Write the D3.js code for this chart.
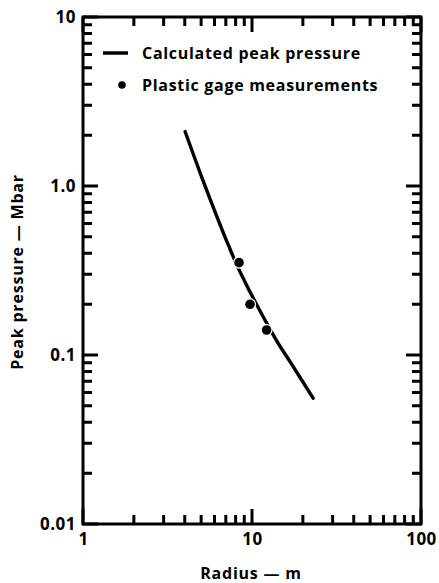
<!DOCTYPE html>
<html>
<head>
<meta charset="utf-8">
<script src="https://cdn.jsdelivr.net/npm/d3@7"></script>
<style>
  html, body { margin: 0; padding: 0; background: #fff; }
  svg { display: block; }
  text { font-family: "Open Sans", "DejaVu Sans", sans-serif; font-weight: 700; fill: #000; }
</style>
</head>
<body>
<svg id="chart" width="439" height="583"></svg>
<script>
// Calculated peak pressure vs. radius
const curveRadius   = [4.02, 5.04, 7.24, 8.49, 13.7, 17.2, 23.0];
const curvePressure = [2.10, 1.13, 0.448, 0.311, 0.126, 0.088, 0.0555];

// Plastic gage measurements
const gageRadius   = [8.38, 9.73, 12.2];
const gagePressure = [0.352, 0.1995, 0.1406];

// Axis ticks
const xMajorTicks = [1, 10, 100];
const xMajorLabels = ["1", "10", "100"];
const xMinorTicks = [2, 3, 4, 5, 6, 7, 8, 9, 20, 30, 40, 50, 60, 70, 80, 90];
const yMajorTicks = [0.01, 0.1, 1, 10];
const yMajorLabels = ["0.01", "0.1", "1.0", "10"];
const yMinorTicks = [0.02, 0.03, 0.04, 0.05, 0.06, 0.07, 0.08, 0.09,
                     0.2, 0.3, 0.4, 0.5, 0.6, 0.7, 0.8, 0.9,
                     2, 3, 4, 5, 6, 7, 8, 9];

const legendLabels = ["Calculated peak pressure", "Plastic gage measurements"];
const xTitle = "Radius \u2014 m";
const yTitle = "Peak pressure \u2014 Mbar";

const svg = d3.select("#chart");
const plotLeft = 83, plotRight = 421, plotTop = 17, plotBottom = 524;

const x = d3.scaleLog().domain([1, 100]).range([plotLeft, plotRight]);
const y = d3.scaleLog().domain([0.01, 10]).range([plotBottom, plotTop]);

svg.append("rect").attr("width", 439).attr("height", 583).attr("fill", "#fff");

const majorLen = 15, minorLen = 9;

// Frame
svg.append("rect")
  .attr("x", plotLeft).attr("y", plotTop)
  .attr("width", plotRight - plotLeft).attr("height", plotBottom - plotTop)
  .attr("fill", "none").attr("stroke", "#000").attr("stroke-width", 3);

// Tick labels from d3 axes
function styleLabels(g) {
  g.select(".domain").remove();
  g.selectAll(".tick line").remove();
  g.selectAll(".tick text")
    .style("font-family", "'Open Sans', sans-serif")
    .style("font-weight", 700)
    .style("font-size", "17px")
    .style("letter-spacing", "0.5px")
    .attr("fill", "#000");
}
svg.append("g").attr("transform", `translate(0,${plotBottom})`)
  .call(d3.axisBottom(x).tickValues(xMajorTicks).tickSize(0).tickPadding(9)
    .tickFormat((d, i) => xMajorLabels[i]))
  .call(styleLabels);
svg.append("g").attr("transform", `translate(${plotLeft},0)`)
  .call(d3.axisLeft(y).tickValues(yMajorTicks).tickSize(0).tickPadding(7)
    .tickFormat((d, i) => yMajorLabels[i]))
  .call(styleLabels);

// Inward tick marks on all four sides, one path per side
const xTicks = xMajorTicks.map(v => ({ v, len: majorLen }))
  .concat(xMinorTicks.map(v => ({ v, len: minorLen })));
const yTicks = yMajorTicks.map(v => ({ v, len: majorLen }))
  .concat(yMinorTicks.map(v => ({ v, len: minorLen })));

const tickPaths = [
  xTicks.map(d => `M${x(d.v)},${plotBottom}V${plotBottom - d.len}`).join(""),
  xTicks.map(d => `M${x(d.v)},${plotTop}V${plotTop + d.len}`).join(""),
  yTicks.map(d => `M${plotLeft},${y(d.v)}H${plotLeft + d.len}`).join(""),
  yTicks.map(d => `M${plotRight},${y(d.v)}H${plotRight - d.len}`).join("")
];
svg.append("g").selectAll("path").data(tickPaths).join("path")
  .attr("d", d => d)
  .attr("fill", "none")
  .attr("stroke", "#000")
  .attr("stroke-width", 3);

// Calculated curve
const curveData = curveRadius.map((r, i) => ({ r, p: curvePressure[i] }));
const pathGen = d3.line().x(d => x(d.r)).y(d => y(d.p)).curve(d3.curveCatmullRom.alpha(0.5));
svg.append("path").datum(curveData)
  .attr("d", pathGen)
  .attr("fill", "none").attr("stroke", "#000").attr("stroke-width", 3.4)
  .attr("stroke-linecap", "round");

// Gage measurements (white halo breaks the curve around each dot)
svg.append("g").selectAll("circle")
  .data(gageRadius.map((r, i) => ({ r, p: gagePressure[i] })))
  .join("circle")
  .attr("cx", d => x(d.r)).attr("cy", d => y(d.p))
  .attr("r", 4.8)
  .attr("fill", "#000").attr("stroke", "#fff").attr("stroke-width", 2.5)
  .attr("paint-order", "stroke");

// Legend
const legend = svg.append("g");
legend.append("line")
  .attr("x1", 103).attr("x2", 128).attr("y1", 53).attr("y2", 53)
  .attr("stroke", "#000").attr("stroke-width", 3.5);
legend.append("circle").attr("cx", 122).attr("cy", 85).attr("r", 3.8).attr("fill", "#000");
legend.selectAll("text").data(legendLabels).join("text")
  .attr("x", 142).attr("y", (d, i) => 53 + i * 32)
  .attr("dy", "0.35em")
  .style("font-size", "16px")
  .style("letter-spacing", "0.7px")
  .text(d => d);

// Axis titles
svg.append("text")
  .attr("x", 251).attr("y", 573).attr("dy", "0.35em")
  .attr("text-anchor", "middle")
  .style("font-size", "16px")
  .style("letter-spacing", "0.8px")
  .text(xTitle);
svg.append("text")
  .attr("transform", "translate(17,272) rotate(-90)")
  .attr("dy", "0.35em")
  .attr("text-anchor", "middle")
  .style("font-size", "16px")
  .style("letter-spacing", "0.8px")
  .text(yTitle);
</script>
</body>
</html>
